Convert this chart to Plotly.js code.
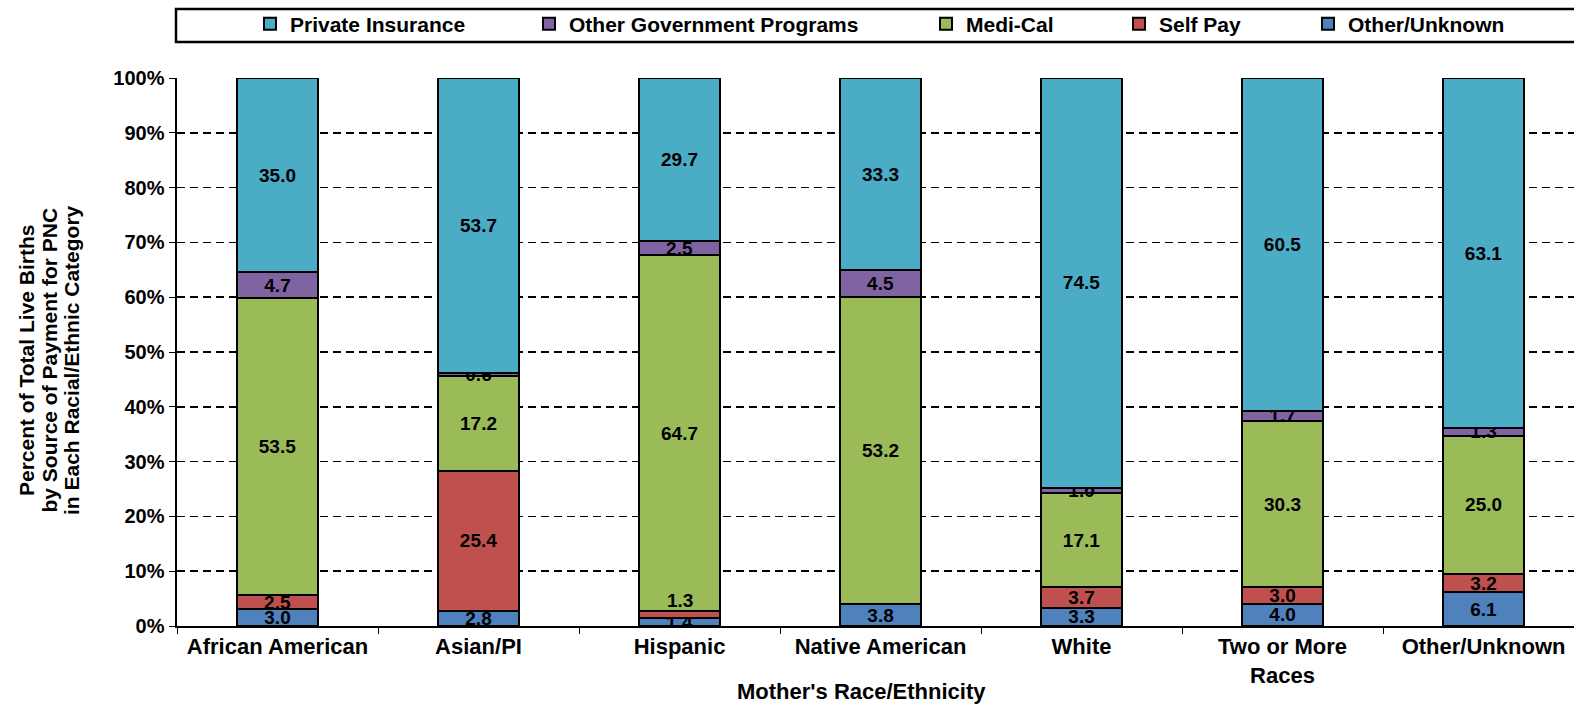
<!DOCTYPE html>
<html>
<head>
<meta charset="utf-8">
<script src="https://cdn.plot.ly/plotly-3.0.1.min.js"></script>
<style>html,body{margin:0;padding:0;background:#fff;}#chart{width:1574px;height:707px;}</style>
</head>
<body>
<div id="chart"></div>
<script>
const categories = ["African American", "Asian/PI", "Hispanic", "Native American", "White", "Two or More<br>Races", "Other/Unknown"];
const otherUnknown = [3.0, 2.8, 1.4, 3.8, 3.3, 4.0, 6.1];
const selfPay = [2.5, 25.4, 1.3, null, 3.7, 3.0, 3.2];
const mediCal = [53.5, 17.2, 64.7, 53.2, 17.1, 30.3, 25.0];
const otherGov = [4.7, 0.6, 2.5, 4.5, 1.0, 1.7, 1.3];
const privateIns = [35.0, 53.7, 29.7, 33.3, 74.5, 60.5, 63.1];
const yTicks = [0, 10, 20, 30, 40, 50, 60, 70, 80, 90, 100];
const yTitleLines = ["Percent of Total Live Births", "by Source of Payment for PNC", "in Each Racial/Ethnic Category"];
const xTitle = "Mother's Race/Ethnicity";

const FONT = "Liberation Sans, Arial, sans-serif";
const L = 177, W = 1397, T = 78, H = 548;
function px2paper(px) { return (px - L) / W; }
function py2paper(py) { return (T + H - py) / H; }

// Self Pay label for Hispanic is drawn just above its thin segment (as in the original)
const raisedIdx = 2;

function mk(name, vals, color, legendId, skipIdx) {
  return {
    type: "bar", name: name, x: categories, y: vals,
    text: vals.map((v, i) => (v == null || i === skipIdx) ? "" : v.toFixed(1)),
    textposition: "inside", insidetextanchor: "middle", textangle: 0,
    textfont: {family: FONT, size: 19, color: "#000", weight: "bold"},
    marker: {color: color, line: {color: "#000", width: 2}},
    width: 0.4, legend: legendId, showlegend: true, hoverinfo: "name+y"
  };
}

const data = [
  mk("Other/Unknown", otherUnknown, "#4F81BD", "legend5"),
  mk("Self Pay", selfPay, "#C0504D", "legend4", raisedIdx),
  mk("Medi-Cal", mediCal, "#9BBB59", "legend3"),
  mk("Other Government Programs", otherGov, "#8064A2", "legend2"),
  mk("Private Insurance", privateIns, "#4BACC6", "legend")
];

const legFont = {family: FONT, size: 21, color: "#000", weight: "bold"};
function leg(textStart) {
  return {x: px2paper(textStart - 36), xanchor: "left", y: py2paper(24), yanchor: "middle",
          orientation: "h", font: legFont, bgcolor: "rgba(0,0,0,0)", borderwidth: 0,
          itemwidth: 30, tracegroupgap: 0};
}

const annotations = yTitleLines.map((t, i) => ({
  text: t, xref: "paper", yref: "paper", x: px2paper([26, 48.5, 71][i]), y: py2paper(360),
  xanchor: "center", yanchor: "middle", textangle: -90, showarrow: false,
  font: {family: FONT, size: 21, color: "#000", weight: "bold"}
}));
annotations.push({
  text: xTitle, xref: "paper", yref: "paper", x: px2paper(861), y: py2paper(691),
  xanchor: "center", yanchor: "middle", showarrow: false,
  font: {family: FONT, size: 22, color: "#000", weight: "bold"}
});
// raised label: placed on top of the Self Pay segment (normalized stack height)
(function () {
  const i = raisedIdx;
  const total = [otherUnknown, selfPay, mediCal, otherGov, privateIns].reduce((s, a) => s + (a[i] || 0), 0);
  const top = (otherUnknown[i] + selfPay[i]) / total * 100;
  annotations.push({
    text: selfPay[i].toFixed(1), xref: "x", yref: "y", x: categories[i], y: top,
    xanchor: "center", yanchor: "bottom", showarrow: false, yshift: -2,
    font: {family: FONT, size: 19, color: "#000", weight: "bold"}
  });
})();

const layout = {
  width: 1574, height: 707,
  margin: {l: L, r: 0, t: T, b: 707 - T - H, pad: 0},
  paper_bgcolor: "#fff", plot_bgcolor: "#fff",
  barmode: "stack", barnorm: "percent",
  showlegend: true,
  uniformtext: {mode: "show", minsize: 19},
  font: {family: FONT, color: "#000"},
  legend: leg(286), legend2: leg(565), legend3: leg(962), legend4: leg(1155), legend5: leg(1344),
  xaxis: {
    type: "category", range: [-0.5, 6.45],
    showline: true, linecolor: "#000", linewidth: 2,
    ticks: "outside", tickson: "boundaries", ticklen: 6, tickcolor: "#000", tickwidth: 1,
    tickfont: {family: FONT, size: 22, color: "#000", weight: "bold"},
    showgrid: false, zeroline: false, automargin: false
  },
  yaxis: {
    range: [0, 100], tickvals: yTicks, ticktext: yTicks.map(v => v + "%"),
    showline: true, linecolor: "#000", linewidth: 2.5,
    ticks: "outside", ticklen: 6, tickcolor: "#000", tickwidth: 1,
    tickfont: {family: FONT, size: 20, color: "#000", weight: "bold"},
    showgrid: true, gridcolor: "#000", gridwidth: 1.5, griddash: "8px,5px",
    zeroline: false, automargin: false
  },
  annotations: annotations,
  shapes: [{type: "rect", xref: "paper", yref: "paper",
            x0: px2paper(176), x1: px2paper(1580), y0: py2paper(42), y1: py2paper(9),
            line: {color: "#000", width: 2.5}, fillcolor: "rgba(0,0,0,0)", layer: "above"}]
};

Plotly.newPlot("chart", data, layout, {displayModeBar: false, staticPlot: true});
</script>
</body>
</html>
